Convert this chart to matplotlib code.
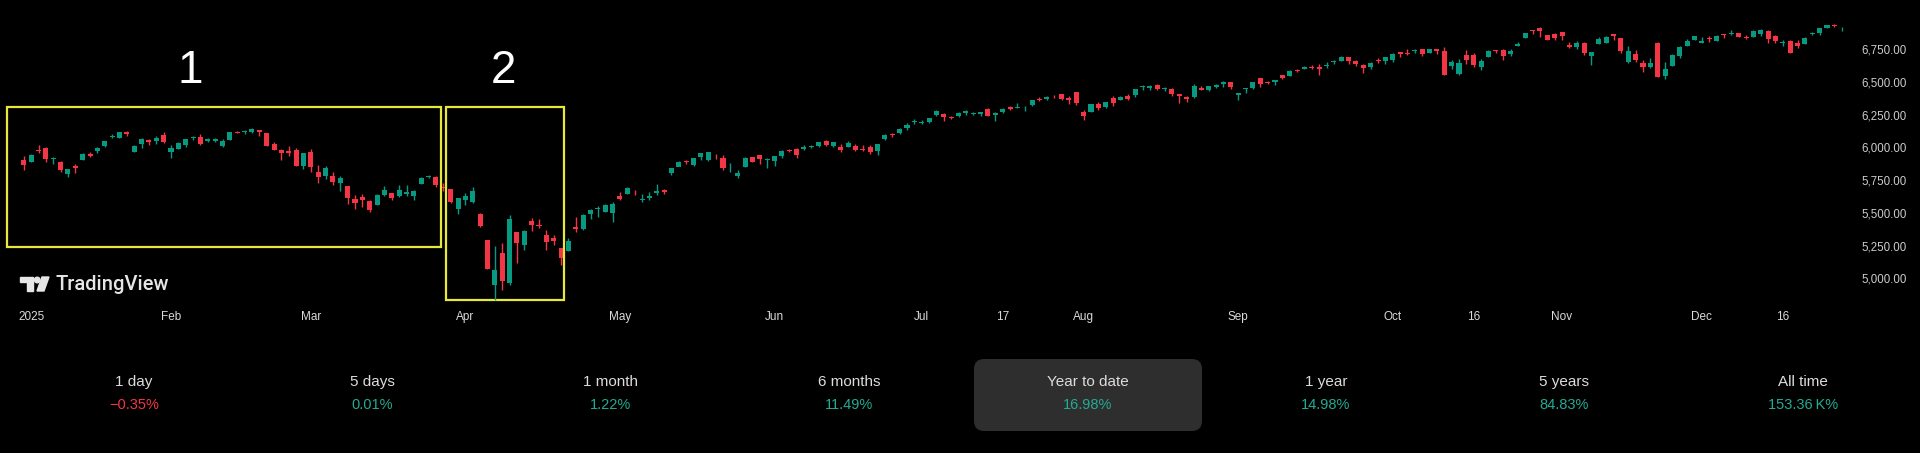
import matplotlib
matplotlib.use('Agg')
import matplotlib.pyplot as plt
from matplotlib.patches import Rectangle, FancyBboxPatch, Polygon, Circle

plt.rcParams['font.family'] = ['Liberation Sans', 'DejaVu Sans']

# daily OHLC, S&P 500, 2 Jan 2025 - 29 Dec 2025
opens = [5903, 5892, 5982, 5993, 5910, 5890, 5800, 5859, 5905, 5951, 5976, 6014, 6081, 6076, 6121, 5969, 6026, 6057, 6050, 6096,
         5969, 5990, 6020, 6073, 6083, 6047, 6049, 6010, 6060, 6115, 6121, 6117, 6134, 6114, 6027, 5982, 5970, 5982, 5857,
         5968, 5811, 5781, 5785, 5726, 5705, 5603, 5624, 5594, 5563, 5635, 5654, 5632, 5646, 5630, 5718, 5775, 5771, 5696, 5679, 5527,
         5597, 5580, 5492, 5292, 4953, 5194, 4966, 5353, 5256, 5441, 5411, 5335, 5305, 5232, 5207, 5395, 5381, 5489, 5529, 5508, 5499,
         5626, 5645, 5655, 5600, 5614, 5650, 5674, 5808, 5854, 5896, 5869, 5929, 5903, 5944, 5923, 5841, 5781, 5854, 5925, 5939, 5903,
         5897, 5938, 5978, 5985, 5987, 6005, 6009, 6049, 6009, 6000, 6005, 6012, 5987, 6004, 5970, 6061, 6105, 6108, 6151, 6193,
         6187, 6194, 6247, 6259, 6233, 6240, 6266, 6255, 6255, 6295, 6245, 6270, 6311, 6304, 6306, 6326, 6368, 6370, 6397, 6409, 6380, 6427,
         6272, 6271, 6331, 6309, 6380, 6360, 6390, 6398, 6460, 6455, 6478, 6445, 6446, 6410, 6389, 6386, 6457, 6441, 6462, 6483, 6500,
         6401, 6445, 6456, 6529, 6498, 6501, 6551, 6549, 6590, 6603, 6616, 6611, 6626, 6651, 6660, 6692, 6664, 6627, 6616, 6669, 6661,
         6665, 6731, 6722, 6735, 6751, 6723, 6754, 6740, 6625, 6564, 6706, 6710, 6617, 6690, 6736, 6742, 6711, 6776, 6837, 6896, 6910, 6857, 6870,
         6883, 6780, 6766, 6798, 6700, 6787, 6800, 6870, 6833, 6654, 6712, 6647, 6616, 6800, 6543, 6625, 6697, 6775, 6823,
         6800, 6830, 6815, 6866, 6866, 6871, 6841, 6841, 6866, 6889, 6855, 6798, 6815, 6797, 6792, 6865, 6874, 6910, 6935, 6902]
highs = [5935, 5949, 6021, 6000, 5928, 5895, 5838, 5871, 5960, 5965, 6004, 6052, 6100, 6119, 6128, 6017, 6070, 6062, 6087, 6120,
         6022, 6042, 6062, 6084, 6101, 6073, 6076, 6063, 6117, 6128, 6130, 6147, 6135, 6114, 6044, 5992, 6009, 5994, 5959,
         5986, 5865, 5860, 5812, 5783, 5705, 5636, 5642, 5597, 5645, 5704, 5654, 5715, 5711, 5672, 5776, 5786, 5782, 5732, 5685, 5615,
         5651, 5696, 5500, 5292, 5246, 5267, 5481, 5353, 5370, 5460, 5450, 5368, 5328, 5232, 5309, 5469, 5488, 5528, 5553, 5571, 5581,
         5659, 5700, 5672, 5641, 5657, 5720, 5683, 5847, 5897, 5906, 5917, 5958, 5968, 5953, 5939, 5878, 5829, 5924, 5930, 5943, 5921,
         5937, 5981, 5990, 5999, 6016, 6022, 6043, 6060, 6045, 6026, 6050, 6024, 6019, 6018, 6025, 6101, 6108, 6146, 6188, 6215,
         6210, 6227, 6284, 6262, 6243, 6269, 6290, 6272, 6273, 6302, 6270, 6303, 6316, 6336, 6316, 6360, 6382, 6390, 6401, 6410, 6390, 6427,
         6288, 6330, 6346, 6349, 6395, 6395, 6409, 6446, 6481, 6474, 6482, 6459, 6457, 6410, 6394, 6482, 6466, 6467, 6487, 6508, 6500,
         6416, 6453, 6502, 6533, 6508, 6513, 6555, 6592, 6601, 6619, 6627, 6639, 6656, 6671, 6698, 6694, 6670, 6640, 6650, 6680, 6689,
         6718, 6732, 6750, 6749, 6752, 6754, 6755, 6764, 6665, 6677, 6745, 6721, 6675, 6745, 6748, 6752, 6751, 6808, 6876, 6901, 6920, 6862, 6873,
         6885, 6803, 6813, 6804, 6731, 6841, 6849, 6870, 6834, 6775, 6741, 6667, 6683, 6807, 6651, 6715, 6777, 6827, 6849,
         6843, 6851, 6862, 6867, 6895, 6878, 6861, 6895, 6904, 6901, 6863, 6819, 6820, 6820, 6843, 6885, 6910, 6937, 6945, 6917]
lows = [5829, 5888, 5960, 5890, 5874, 5809, 5773, 5803, 5905, 5930, 5956, 6002, 6076, 6075, 6088, 5962, 5994, 6020, 6028, 6031,
        5923, 5990, 6007, 6054, 6020, 6045, 6042, 6003, 6060, 6107, 6100, 6112, 6084, 6009, 5982, 5908, 5932, 5858, 5837,
        5810, 5732, 5762, 5711, 5667, 5565, 5529, 5546, 5505, 5563, 5633, 5597, 5622, 5632, 5597, 5718, 5764, 5695, 5670, 5572, 5489,
        5558, 5578, 5390, 5070, 4835, 4910, 4949, 5115, 5220, 5359, 5387, 5220, 5255, 5101, 5207, 5357, 5371, 5456, 5468, 5505, 5434,
        5597, 5645, 5634, 5586, 5597, 5634, 5646, 5787, 5855, 5876, 5859, 5908, 5895, 5912, 5830, 5812, 5767, 5854, 5886, 5875, 5843,
        5862, 5923, 5966, 5922, 5978, 5996, 6000, 6013, 6004, 5964, 6005, 5976, 5971, 5953, 5943, 6057, 6080, 6106, 6132, 6181,
        6177, 6189, 6244, 6201, 6216, 6236, 6247, 6247, 6238, 6242, 6201, 6263, 6284, 6303, 6282, 6316, 6352, 6364, 6376, 6359, 6331, 6327,
        6212, 6271, 6289, 6299, 6318, 6360, 6364, 6385, 6442, 6441, 6441, 6432, 6395, 6343, 6350, 6380, 6438, 6430, 6456, 6465, 6445,
        6360, 6416, 6445, 6460, 6483, 6478, 6524, 6544, 6574, 6601, 6598, 6553, 6606, 6641, 6658, 6641, 6625, 6570, 6601, 6646, 6639,
        6656, 6693, 6706, 6719, 6700, 6719, 6713, 6550, 6603, 6551, 6634, 6615, 6590, 6690, 6723, 6672, 6702, 6776, 6837, 6869, 6845, 6820, 6818,
        6820, 6761, 6753, 6710, 6631, 6787, 6796, 6822, 6725, 6646, 6650, 6580, 6604, 6535, 6521, 6625, 6685, 6775, 6819,
        6799, 6806, 6810, 6834, 6858, 6841, 6831, 6841, 6850, 6801, 6799, 6775, 6720, 6763, 6788, 6862, 6858, 6910, 6921, 6890]
closes = [5868, 5942, 5975, 5909, 5918, 5827, 5836, 5842, 5950, 5937, 5997, 6049, 6086, 6119, 6101, 6012, 6068, 6039, 6071, 6040,
          5994, 6037, 6061, 6083, 6025, 6066, 6068, 6051, 6115, 6114, 6129, 6144, 6117, 6013, 5983, 5955, 5956, 5861, 5954,
          5850, 5778, 5842, 5739, 5770, 5614, 5572, 5599, 5522, 5639, 5675, 5615, 5675, 5663, 5667, 5768, 5777, 5712, 5693, 5581, 5612,
          5633, 5671, 5397, 5074, 5062, 4982, 5457, 5268, 5363, 5406, 5397, 5276, 5283, 5158, 5288, 5376, 5485, 5525, 5529, 5561, 5569,
          5604, 5687, 5650, 5607, 5631, 5664, 5660, 5844, 5886, 5892, 5916, 5958, 5963, 5940, 5845, 5842, 5803, 5922, 5889, 5912, 5912,
          5936, 5970, 5971, 5939, 6000, 6006, 6038, 6022, 6045, 5977, 6033, 5982, 5981, 5968, 6025, 6092, 6092, 6141, 6173, 6205,
          6198, 6227, 6279, 6230, 6226, 6263, 6280, 6260, 6269, 6244, 6264, 6297, 6297, 6306, 6310, 6359, 6363, 6389, 6390, 6371, 6362, 6339,
          6238, 6330, 6299, 6345, 6340, 6389, 6374, 6446, 6466, 6469, 6450, 6449, 6411, 6396, 6370, 6467, 6439, 6466, 6481, 6502, 6460,
          6416, 6448, 6502, 6482, 6495, 6512, 6532, 6587, 6584, 6615, 6607, 6600, 6631, 6664, 6693, 6657, 6638, 6605, 6644, 6661, 6688,
          6711, 6715, 6716, 6740, 6714, 6753, 6735, 6553, 6655, 6644, 6671, 6630, 6664, 6736, 6735, 6699, 6738, 6792, 6875, 6891, 6890, 6822, 6840,
          6852, 6771, 6796, 6720, 6728, 6832, 6846, 6851, 6738, 6734, 6672, 6617, 6642, 6538, 6603, 6705, 6766, 6813, 6849,
          6812, 6829, 6850, 6857, 6870, 6847, 6840, 6887, 6901, 6827, 6816, 6800, 6721, 6775, 6835, 6878, 6910, 6932, 6930, 6906]

# bar index of each date label
tick_idx = [1, 20, 39, 60, 81, 102, 122, 133, 144, 165, 186, 197, 209, 228, 239]
tick_lbl = ['2025', 'Feb', 'Mar', 'Apr', 'May', 'Jun', 'Jul', '17', 'Aug', 'Sep', 'Oct', '16', 'Nov', 'Dec', '16']
price_ticks = [5000, 5250, 5500, 5750, 6000, 6250, 6500, 6750]

periods = ['1 day', '5 days', '1 month', '6 months', 'Year to date', '1 year', '5 years', 'All time']
changes = ['\u22120.35%', '0.01%', '1.22%', '11.49%', '16.98%', '14.98%', '84.83%', '153.36\u2009K%']

GREEN = '#089981'
RED = '#f23645'
YELLOW = '#e8e83a'

W, H = 1920, 453
fig = plt.figure(figsize=(W / 100, H / 100), dpi=100, facecolor='black')

# chart area: x 0..1850 px, y 0..305 px (from top)
ax = fig.add_axes([0, (H - 305) / H, 1850 / W, 305 / H])
ax.set_facecolor('black')

x = list(range(len(closes)))
cols = [GREEN if c >= o else RED for o, c in zip(opens, closes)]
bottoms = [min(o, c) for o, c in zip(opens, closes)]
heights = [max(abs(c - o), 6) for o, c in zip(opens, closes)]
ax.vlines(x, lows, highs, colors=cols, lw=1.0)
ax.bar(x, heights, bottom=bottoms, width=0.68, color=cols, linewidth=0)

ax.set_xlim(-3.234, 248.125)
ax.set_ylim(4796.6, 7126.6)

ax.set_xticks(tick_idx, tick_lbl)
ax.set_yticks(price_ticks, ['{:,.2f}'.format(p) for p in price_ticks])
ax.yaxis.tick_right()
ax.tick_params(axis='x', length=0, pad=4.5, labelsize=8.5, labelcolor='#dadada')
ax.tick_params(axis='y', length=0, pad=8, labelsize=8.3, labelcolor='#cccccc')
for s in ax.spines.values():
    s.set_visible(False)

# highlighted periods
ax.add_patch(Rectangle((-2.35, 5240), 59.1, 1069, fill=False, ec=YELLOW, lw=1.6, clip_on=False))
ax.add_patch(Rectangle((57.36, 4838.6), 15.97, 1470.4, fill=False, ec=YELLOW, lw=1.6, clip_on=False))
ax.text(22.6, 6584, '1', color='white', fontsize=33, ha='center', va='center')
ax.text(65.2, 6584, '2', color='white', fontsize=33, ha='center', va='center')


def px(xp, yp):
    return xp / W, (H - yp) / H


# TradingView logo
lc = '#e6e6e6'
fig.add_artist(Polygon([px(20, 277), px(33, 277), px(33, 291), px(27, 291), px(27, 282), px(20, 282)],
                       closed=True, color=lc, transform=fig.transFigure))
fig.add_artist(Circle((37.2 / 100, (H - 280) / 100), 0.028, color=lc, transform=fig.dpi_scale_trans))
fig.add_artist(Polygon([px(42, 277), px(49, 277), px(44, 291), px(37, 291)],
                       closed=True, color=lc, transform=fig.transFigure))
fig.text(*px(56, 285), 'TradingView', color=lc, fontsize=14.5, fontweight='medium',
         family=['Roboto', 'Liberation Sans'], ha='left', va='center')

# performance row
fig.add_artist(FancyBboxPatch((974 / 100, (H - 431) / 100), 228 / 100, 72 / 100,
                              boxstyle='round,pad=0,rounding_size=0.1', fc='#2e2e2e', ec='none',
                              transform=fig.dpi_scale_trans))
for i, (p, c) in enumerate(zip(periods, changes)):
    cx = 134 + 238.4 * i
    fig.text(*px(cx, 382), p, color='#dcdcdc', fontsize=11, ha='center', va='center')
    fig.text(*px(cx, 405), c, color=RED if c.startswith('\u2212') else '#22ab94',
             fontsize=10.5, ha='center', va='center')

fig.savefig('out.png', dpi=100, facecolor='black')
